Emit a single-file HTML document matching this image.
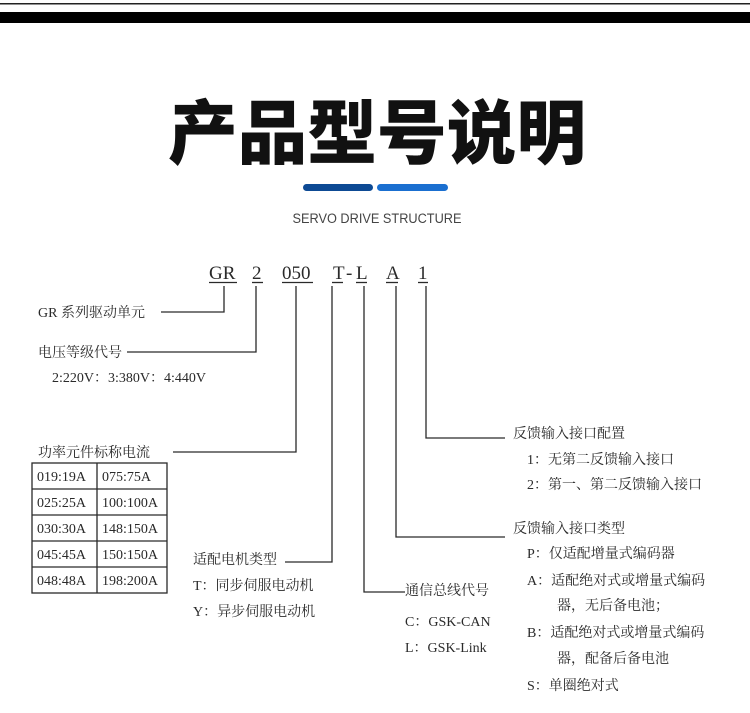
<!DOCTYPE html>
<html><head><meta charset="utf-8"><style>
html,body{margin:0;padding:0;background:#fff;}
body{width:750px;height:713px;position:relative;overflow:hidden;}
svg{position:absolute;left:0;top:0;}
.t{font-family:"Liberation Serif","Noto Serif CJK SC","Noto Sans CJK SC",serif;font-size:14px;fill:#2a2a2a;}
.c{font-family:"Liberation Serif",serif;font-size:19px;fill:#2a2a2a;}
</style></head><body>
<svg width="750" height="713" viewBox="0 0 750 713">
<rect x="0" y="3" width="750" height="1.5" fill="#222"/>
<rect x="0" y="12" width="750" height="11" fill="#000"/>
<text x="377" y="158" text-anchor="middle" font-family="'Noto Sans CJK SC',sans-serif" font-weight="900" font-size="70" fill="#111" textLength="418" lengthAdjust="spacingAndGlyphs">产品型号说明</text>
<rect x="303" y="184" width="70" height="7" rx="3.5" fill="#0d4a94"/>
<rect x="377" y="184" width="71" height="7" rx="3.5" fill="#1a6fd0"/>
<text x="377" y="223" text-anchor="middle" font-family="'Liberation Sans',sans-serif" font-size="13.5" fill="#444" textLength="169" lengthAdjust="spacingAndGlyphs">SERVO DRIVE STRUCTURE</text>
<g class="c">
<text x="209" y="279">GR</text>
<text x="252" y="279">2</text>
<text x="282" y="279">050</text>
<text x="333" y="279">T</text>
<text x="346" y="279">-</text>
<text x="356" y="279">L</text>
<text x="386" y="279">A</text>
<text x="418" y="279">1</text>
</g>
<g stroke="#2a2a2a" stroke-width="1.3" fill="none">
<line x1="209" y1="282.5" x2="237" y2="282.5"/>
<line x1="252" y1="282.5" x2="263" y2="282.5"/>
<line x1="282" y1="282.5" x2="313" y2="282.5"/>
<line x1="332" y1="282.5" x2="343" y2="282.5"/>
<line x1="356" y1="282.5" x2="367" y2="282.5"/>
<line x1="386" y1="282.5" x2="398" y2="282.5"/>
<line x1="418" y1="282.5" x2="428" y2="282.5"/>
<polyline points="224,286 224,312 161,312"/>
<polyline points="256,286 256,352 127,352"/>
<polyline points="296,286 296,452 173,452"/>
<polyline points="332,286 332,562 285,562"/>
<polyline points="364,286 364,592 405,592"/>
<polyline points="396,286 396,537 505,537"/>
<polyline points="426,286 426,438 505,438"/>
<rect x="32" y="463" width="135" height="130"/>
<line x1="97" y1="463" x2="97" y2="593"/>
<line x1="32" y1="489" x2="167" y2="489"/>
<line x1="32" y1="515" x2="167" y2="515"/>
<line x1="32" y1="541" x2="167" y2="541"/>
<line x1="32" y1="567" x2="167" y2="567"/>
</g>
<g class="t">
<text x="38" y="317">GR 系列驱动单元</text>
<text x="38" y="357">电压等级代号</text>
<text x="52" y="382">2:220V：3:380V：4:440V</text>
<text x="38" y="457">功率元件标称电流</text>
<text x="37" y="481">019:19A</text><text x="102" y="481">075:75A</text>
<text x="37" y="507">025:25A</text><text x="102" y="507">100:100A</text>
<text x="37" y="533">030:30A</text><text x="102" y="533">148:150A</text>
<text x="37" y="559">045:45A</text><text x="102" y="559">150:150A</text>
<text x="37" y="585">048:48A</text><text x="102" y="585">198:200A</text>
<text x="193" y="564">适配电机类型</text>
<text x="193" y="590">T：同步伺服电动机</text>
<text x="193" y="616">Y：异步伺服电动机</text>
<text x="405" y="595">通信总线代号</text>
<text x="405" y="626">C：GSK-CAN</text>
<text x="405" y="652">L：GSK-Link</text>
<text x="513" y="438">反馈输入接口配置</text>
<text x="527" y="464">1：无第二反馈输入接口</text>
<text x="527" y="489">2：第一、第二反馈输入接口</text>
<text x="513" y="533">反馈输入接口类型</text>
<text x="527" y="558">P：仅适配增量式编码器</text>
<text x="527" y="585">A：适配绝对式或增量式编码</text>
<text x="557" y="610">器，无后备电池；</text>
<text x="527" y="637">B：适配绝对式或增量式编码</text>
<text x="557" y="663">器，配备后备电池</text>
<text x="527" y="690">S：单圈绝对式</text>
</g>
</svg>
</body></html>
